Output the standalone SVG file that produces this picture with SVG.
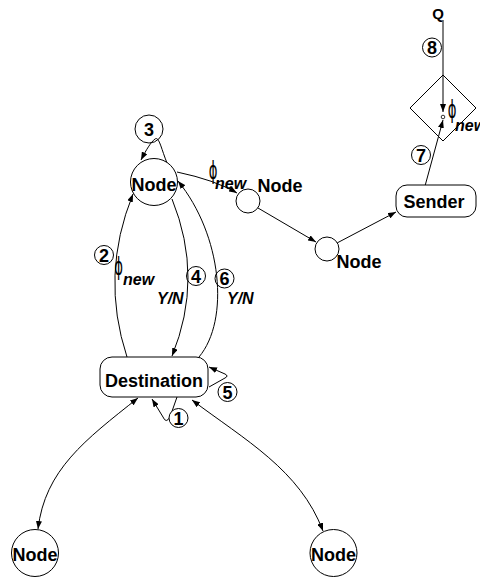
<svg xmlns="http://www.w3.org/2000/svg" width="480" height="577" viewBox="0 0 480 577">
<style>
  .shape{fill:#fff;stroke:#000;stroke-width:1}
  .edge{fill:none;stroke:#000;stroke-width:1}
  .ring{fill:none;stroke:#000;stroke-width:1}
  .lbl{font-family:"Liberation Sans",Arial,sans-serif;font-weight:bold;fill:#000}
  .big{font-size:18px;text-anchor:middle}
  .num{font-size:18px;text-anchor:middle}
  .it{font-style:italic;font-size:16px}
  .phi{font-family:"DejaVu Sans",sans-serif;font-size:24px;text-anchor:middle;fill:#000}
</style>
<defs>
  <marker id="ah" markerUnits="userSpaceOnUse" markerWidth="8" markerHeight="6" refX="8" refY="3" orient="auto-start-reverse">
    <path d="M0,0 L8,3 L0,6 z" fill="#000"/>
  </marker>
</defs>

<g id="connectors">
  <path class="edge" d="M167,163 C161,148 159,136 155,139 C151,142 146,150 141,160" marker-end="url(#ah)"/>
  <path class="edge" d="M177,172 Q215,180 237,193" marker-end="url(#ah)"/>
  <line class="edge" x1="258" y1="208" x2="316" y2="242" marker-end="url(#ah)"/>
  <line class="edge" x1="337" y1="243" x2="396" y2="212" marker-end="url(#ah)"/>
  <line class="edge" x1="425" y1="186" x2="443" y2="120" marker-end="url(#ah)"/>
  <line class="edge" x1="443" y1="20" x2="443" y2="112" marker-end="url(#ah)"/>
  <path class="edge" d="M127,357 Q100,275 133,194" marker-end="url(#ah)"/>
  <path class="edge" d="M172,199 Q204,278 172,356" marker-end="url(#ah)"/>
  <path class="edge" d="M199,357 C230,320 222,235 178,181" marker-end="url(#ah)"/>
  <path class="edge" d="M209,387 L225,378 Q229,376 225,374 L209,367" marker-end="url(#ah)"/>
  <path class="edge" d="M177,397 L170,417 Q166,424 163,417 L152,399" marker-end="url(#ah)"/>
  <path class="edge" d="M138,398 C85,440 45,470 38,529" marker-start="url(#ah)" marker-end="url(#ah)"/>
  <path class="edge" d="M192,400 C245,440 300,470 323,531" marker-start="url(#ah)" marker-end="url(#ah)"/>
</g>

<g id="node-main">
  <circle class="shape" cx="154" cy="182" r="23.5"/>
  <text class="lbl big" x="154" y="191">Node</text>
</g>
<g id="circ-3">
  <circle class="ring" cx="149" cy="129" r="14"/>
  <text class="lbl num" x="149" y="135.5">3</text>
</g>
<g id="node-small1">
  <circle class="shape" cx="248" cy="201" r="12"/>
  <text class="lbl big" x="280" y="192">Node</text>
</g>
<g id="node-small2">
  <circle class="shape" cx="327" cy="249" r="12"/>
  <text class="lbl big" x="359" y="268">Node</text>
</g>
<g id="sender">
  <rect class="shape" x="396" y="185" width="80" height="32" rx="11"/>
  <text class="lbl big" x="434" y="208">Sender</text>
</g>
<g id="diamond">
  <polygon points="443,75 476,108 443,141 410,108" fill="none" stroke="#000"/>
  <circle cx="443" cy="117" r="1.8" fill="#fff" stroke="#000" stroke-width="0.8"/>
</g>
<g id="q">
  <text class="lbl" x="438" y="19" font-size="15" text-anchor="middle">Q</text>
</g>
<g id="destination">
  <rect class="shape" x="100" y="357" width="108" height="40" rx="12"/>
  <text class="lbl big" x="154" y="387">Destination</text>
</g>
<g id="node-bl">
  <circle class="shape" cx="35" cy="553" r="23.5"/>
  <text class="lbl big" x="35" y="561">Node</text>
</g>
<g id="node-br">
  <circle class="shape" cx="333.5" cy="553" r="23.5"/>
  <text class="lbl big" x="333.5" y="561">Node</text>
</g>

<g id="labels">
  <circle class="ring" cx="104" cy="255" r="9.5"/>
  <text class="lbl num" x="104" y="261.5">2</text>
  <circle class="ring" cx="196" cy="276" r="9.5"/>
  <text class="lbl num" x="196" y="282.5">4</text>
  <circle class="ring" cx="224.5" cy="278.5" r="9.5"/>
  <text class="lbl num" x="224.5" y="285">6</text>
  <circle class="ring" cx="227.5" cy="392" r="9.5"/>
  <text class="lbl num" x="227.5" y="398.5">5</text>
  <circle cx="178.5" cy="418" r="9.5" fill="#fff" stroke="#000"/>
  <text class="lbl num" x="178.5" y="424.5">1</text>
  <circle cx="432" cy="47.5" r="9.5" fill="#fff" stroke="#000"/>
  <text class="lbl num" x="432" y="54">8</text>
  <circle cx="421" cy="155" r="9.5" fill="#fff" stroke="#000"/>
  <text class="lbl num" x="421" y="161.5">7</text>

  <text class="lbl it" x="157" y="304" font-size="17">Y/N</text>
  <text class="lbl it" x="227" y="304" font-size="17">Y/N</text>

  <text class="phi" transform="translate(213,178.5) scale(0.55,1)">ϕ</text>
  <text class="lbl it" x="215" y="189">new</text>
  <text class="phi" transform="translate(118.5,274.5) scale(0.55,1)">ϕ</text>
  <text class="lbl it" x="123" y="285">new</text>
  <text class="phi" transform="translate(452,118) scale(0.55,1)">ϕ</text>
  <text class="lbl it" x="455" y="131">new</text>
</g>
</svg>
